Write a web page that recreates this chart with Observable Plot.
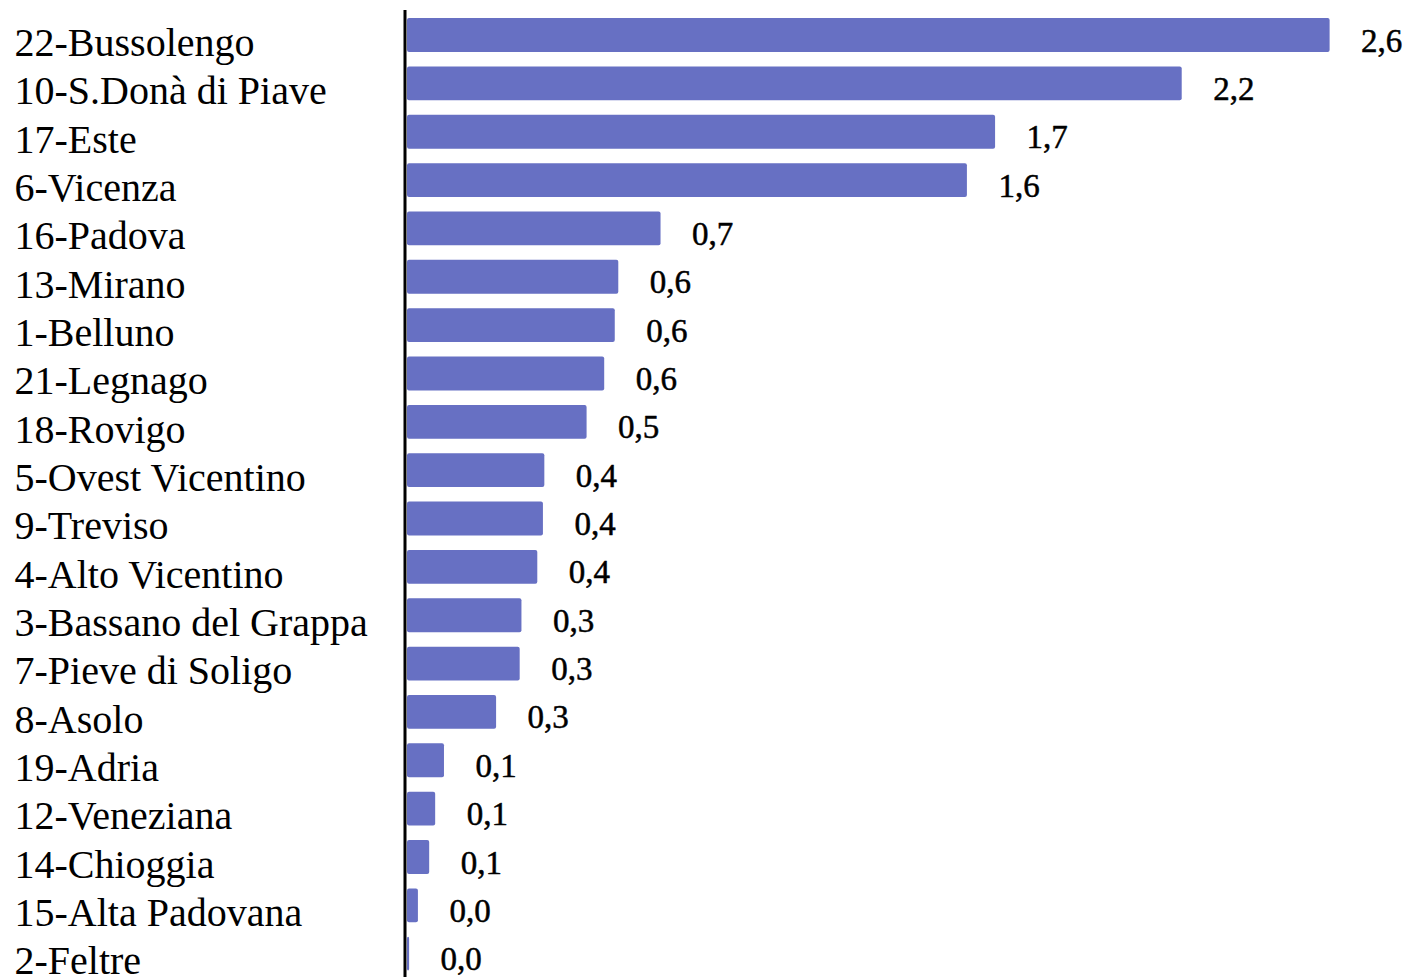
<!DOCTYPE html>
<html>
<head>
<meta charset="utf-8">
<script src="https://cdn.jsdelivr.net/npm/d3@7"></script>
<script src="https://cdn.jsdelivr.net/npm/@observablehq/plot@0.6"></script>
<style>
  html, body { margin: 0; padding: 0; background: #fff; }
  #chart svg { display: block; }
</style>
</head>
<body>
<div id="chart"></div>
<script>
const categories = [
  "22-Bussolengo", "10-S.Donà di Piave", "17-Este", "6-Vicenza", "16-Padova",
  "13-Mirano", "1-Belluno", "21-Legnago", "18-Rovigo", "5-Ovest Vicentino",
  "9-Treviso", "4-Alto Vicentino", "3-Bassano del Grappa", "7-Pieve di Soligo", "8-Asolo",
  "19-Adria", "12-Veneziana", "14-Chioggia", "15-Alta Padovana", "2-Feltre"
];
const values = [
  2.62, 2.20, 1.67, 1.59, 0.72,
  0.60, 0.59, 0.56, 0.51, 0.39,
  0.386, 0.37, 0.325, 0.32, 0.253,
  0.105, 0.08, 0.063, 0.031, 0.006
];

const data = categories.map((c, i) => ({ name: c, value: values[i] }));
const fmt = v => d3.format(".1f")(v).replace(".", ",");

const chart = Plot.plot({
  width: 1406,
  height: 977,
  marginLeft: 407,
  marginRight: 13,
  marginTop: 10,
  marginBottom: 0,
  style: { fontFamily: "Liberation Serif, Times New Roman, serif", background: "#fff", color: "#000" },
  x: { domain: [0, 2.8], axis: null },
  y: { domain: categories, range: [3.6, 985.1], padding: 0.3, round: false, label: null },
  marks: [
    Plot.barX(data, { x: "value", y: "name", fill: "#6770c3", rx: 2 }),
    Plot.ruleX([0], { stroke: "#000", strokeWidth: 3, dx: -2.5 }),
    Plot.text(data, {
      x: "value", y: "name", text: d => fmt(d.value),
      textAnchor: "start", dx: 31, dy: 5.5, fontSize: 33, fill: "#000",
      stroke: "#000", strokeWidth: 0.5
    }),
    Plot.axisY({
      tickSize: 0, tickPadding: 0, textAnchor: "start", dx: -393, dy: 7.5,
      fontSize: 40, fill: "#000", stroke: "#000", strokeWidth: 0.5, label: null
    })
  ]
});
document.getElementById("chart").appendChild(chart);
</script>
</body>
</html>
